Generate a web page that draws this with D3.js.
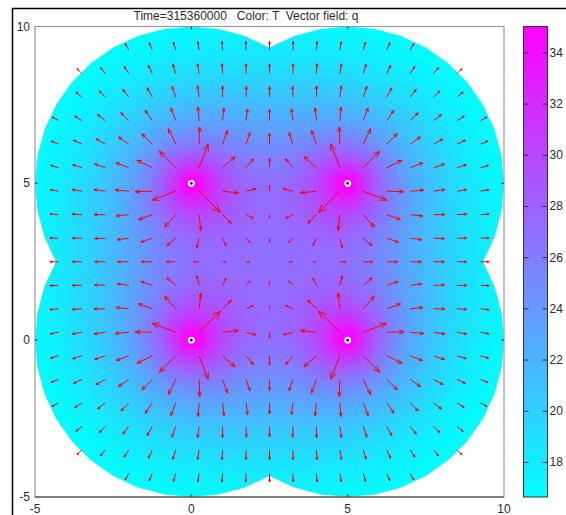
<!DOCTYPE html>
<html>
<head>
<meta charset="utf-8">
<script src="https://cdn.jsdelivr.net/npm/d3@7"></script>
<style>
  body { margin: 0; background: #fff; }
  svg { display: block; }
  text { font-family: "Liberation Sans", Arial, sans-serif; }
</style>
</head>
<body>
<svg id="chart" width="566" height="515"></svg>
<script>
// ---- data -------------------------------------------------------------
const titleText = "Time=315360000   Color: T  Vector field: q";
const sourceX = [0, 5, 0, 5];          // heat source positions
const sourceY = [0, 0, 5, 5];
const domainRadius = 5;                // each source sits in a disc of this radius
const xExtent = [-5, 10];
const yExtent = [-5, 10];
const axisTicks = [-5, 0, 5, 10];
const colorTicks = [18, 20, 22, 24, 26, 28, 30, 32, 34];
const tRange = [16.65, 35.03];         // colour bar limits of T
const sourceStrength = 3.5;            // A in  T = T0 + A * sum E1(r^2 / 4kt)
const spreadArea = 40;                 // 4kt
const coreRadius = 0.44;               // keeps T finite at a source node
const arrowOrigin = 2.5;               // q is sampled on a 0.75 lattice through this point
const arrowStep = 0.75;

// ---- layout -----------------------------------------------------------
const svg = d3.select("#chart");
const x = d3.scaleLinear().domain(xExtent).range([35, 504]);
const y = d3.scaleLinear().domain(yExtent).range([497, 26.5]);
const color = d3.scaleLinear().domain(tRange).range(["#00ffff", "#ff00ff"]).clamp(true);

// ---- line-source solution, superposed for the four sources ------------
function E1(z) {
  if (z <= 1) {
    let s = 0, term = 1;
    for (let k = 1; k < 30; k++) { term *= -z / k; s += term / k; }
    return -0.5772156649 - Math.log(z) - s;
  }
  const a1 = 2.334733, a2 = 0.250621, b1 = 3.330657, b2 = 1.681534;
  return Math.exp(-z) / z * (z * z + a1 * z + a2) / (z * z + b1 * z + b2);
}
const inDomain = (px, py) => sourceX.some((sx, s) => Math.hypot(px - sx, py - sourceY[s]) < domainRadius - 1e-9);
const rise = (px, py) => {
  let v = 0;
  sourceX.forEach((sx, s) => {
    const r2 = (px - sx) ** 2 + (py - sourceY[s]) ** 2 + coreRadius * coreRadius;
    v += E1(r2 / spreadArea);
  });
  return sourceStrength * v;
};
const flux = (px, py) => {
  let qx = 0, qy = 0;
  sourceX.forEach((sx, s) => {
    const dx = px - sx, dy = py - sourceY[s], r2 = dx * dx + dy * dy;
    const f = 2 * sourceStrength * Math.exp(-r2 / spreadArea) / r2;
    qx += f * dx; qy += f * dy;
  });
  return [qx, qy];
};

const h = 0.0625;
const N = Math.round((xExtent[1] - xExtent[0]) / h) + 1;
const R = new Float64Array(N * N);
let minRise = Infinity;
for (let j = 0; j < N; j++) {
  for (let i = 0; i < N; i++) {
    const px = xExtent[0] + i * h, py = yExtent[0] + j * h;
    const v = rise(px, py);
    R[j * N + i] = v;
    if (inDomain(px, py) && v < minRise) minRise = v;
  }
}
const T0 = tRange[0] - minRise;

// ---- temperature raster ----------------------------------------------
const cvs = document.createElement("canvas");
cvs.width = N; cvs.height = N;
const ctx = cvs.getContext("2d");
const img = ctx.createImageData(N, N);
for (let j = 0; j < N; j++) {
  for (let i = 0; i < N; i++) {
    const c = d3.rgb(color(T0 + R[j * N + i]));
    const p = ((N - 1 - j) * N + i) * 4;
    img.data[p] = c.r; img.data[p + 1] = c.g; img.data[p + 2] = c.b; img.data[p + 3] = 255;
  }
}
ctx.putImageData(img, 0, 0);

const defs = svg.append("defs");
const clip = defs.append("clipPath").attr("id", "domain");
const ring = d3.range(0, 360, 10).map(a => a * Math.PI / 180);
sourceX.forEach((sx, s) => {
  clip.append("path").attr("d",
    d3.line()(ring.map(a => [x(sx + domainRadius * Math.cos(a)), y(sourceY[s] + domainRadius * Math.sin(a))])) + "Z");
});

svg.append("image")
  .attr("href", cvs.toDataURL())
  .attr("x", x(xExtent[0] - h / 2))
  .attr("y", y(yExtent[1] + h / 2))
  .attr("width", x(xExtent[1] + h / 2) - x(xExtent[0] - h / 2))
  .attr("height", y(yExtent[0] - h / 2) - y(yExtent[1] + h / 2))
  .attr("preserveAspectRatio", "none")
  .attr("clip-path", "url(#domain)");

// ---- heat flux q on the arrow lattice --------------------------------
const lattice = [];
for (let ix = -9; arrowOrigin + ix * arrowStep <= xExtent[1] + 1e-9; ix++) {
  for (let iy = -9; arrowOrigin + iy * arrowStep <= yExtent[1] + 1e-9; iy++) {
    const ax = arrowOrigin + ix * arrowStep, ay = arrowOrigin + iy * arrowStep;
    if (!inDomain(ax, ay)) continue;
    const [qx, qy] = flux(ax, ay);
    lattice.push({ x: ax, y: ay, qx, qy, m: Math.hypot(qx, qy) });
  }
}
const arrowLen = d3.scaleSqrt().domain([0, d3.max(lattice, d => d.m)]).range([0, 30]);
const arrowPath = d => {
  const L = arrowLen(d.m);
  if (L < 0.01) return "";
  const ux = d.qx / d.m, uy = -d.qy / d.m;
  const x0 = x(d.x), y0 = y(d.y), x1 = x0 + ux * L, y1 = y0 + uy * L;
  const hl = 0.3 * L, ang = 22 * Math.PI / 180;
  const back = Math.atan2(-uy, -ux);
  const hx1 = x1 + hl * Math.cos(back + ang), hy1 = y1 + hl * Math.sin(back + ang);
  const hx2 = x1 + hl * Math.cos(back - ang), hy2 = y1 + hl * Math.sin(back - ang);
  return `M${x0},${y0}L${x1},${y1}M${hx1},${hy1}L${x1},${y1}L${hx2},${hy2}`;
};
svg.append("g").attr("class", "flux")
  .selectAll("path").data(lattice).join("path")
  .attr("d", arrowPath)
  .attr("fill", "none")
  .attr("stroke", "#ff0000")
  .attr("stroke-width", 1);

// ---- source markers ---------------------------------------------------
const marks = svg.append("g");
sourceX.forEach((sx, s) => {
  marks.append("circle").attr("cx", x(sx)).attr("cy", y(sourceY[s])).attr("r", 3.4).attr("fill", "#fff");
  marks.append("circle").attr("cx", x(sx)).attr("cy", y(sourceY[s])).attr("r", 1.3).attr("fill", "#000");
});

// ---- axes box ---------------------------------------------------------
const frame = svg.append("g");
frame.append("rect")
  .attr("x", x(xExtent[0])).attr("y", y(yExtent[1]))
  .attr("width", x(xExtent[1]) - x(xExtent[0])).attr("height", y(yExtent[0]) - y(yExtent[1]))
  .attr("fill", "none").attr("stroke", "#9a9a9a").attr("stroke-width", 1.2);
frame.append("line")
  .attr("x1", x(xExtent[0])).attr("x2", x(xExtent[1]))
  .attr("y1", y(yExtent[0])).attr("y2", y(yExtent[0]))
  .attr("stroke", "#3a3a3a").attr("stroke-width", 1.2);

const inner = axisTicks.slice(1, -1);
inner.forEach(t => {
  frame.append("line").attr("x1", x(t)).attr("x2", x(t)).attr("y1", y(yExtent[0])).attr("y2", y(yExtent[0]) - 3).attr("stroke", "#333");
  frame.append("line").attr("x1", x(t)).attr("x2", x(t)).attr("y1", y(yExtent[1])).attr("y2", y(yExtent[1]) + 3).attr("stroke", "#333");
  frame.append("line").attr("y1", y(t)).attr("y2", y(t)).attr("x1", x(xExtent[0])).attr("x2", x(xExtent[0]) + 3).attr("stroke", "#333");
  frame.append("line").attr("y1", y(t)).attr("y2", y(t)).attr("x1", x(xExtent[1])).attr("x2", x(xExtent[1]) - 3).attr("stroke", "#333");
});

const labelFont = 12;
svg.append("g").selectAll("text").data(axisTicks).join("text")
  .attr("x", d => x(d)).attr("y", 512.5)
  .attr("text-anchor", "middle").attr("font-size", labelFont).attr("fill", "#2b2b2b")
  .text(d => d);
svg.append("g").selectAll("text").data(axisTicks).join("text")
  .attr("x", 30).attr("y", d => y(d) + 4)
  .attr("text-anchor", "end").attr("font-size", labelFont).attr("fill", "#2b2b2b")
  .text(d => d);

// ---- colour bar -------------------------------------------------------
const cb = d3.scaleLinear().domain(tRange).range([497, 26.5]);
const grad = defs.append("linearGradient").attr("id", "cool")
  .attr("x1", 0).attr("x2", 0).attr("y1", 1).attr("y2", 0);
grad.append("stop").attr("offset", 0).attr("stop-color", color(tRange[0]));
grad.append("stop").attr("offset", 1).attr("stop-color", color(tRange[1]));
const cbx = 523.5, cbw = 24;
svg.append("rect")
  .attr("x", cbx).attr("y", cb(tRange[1]))
  .attr("width", cbw).attr("height", cb(tRange[0]) - cb(tRange[1]))
  .attr("fill", "url(#cool)").attr("stroke", "#333").attr("stroke-width", 1);
const cbTicks = svg.append("g");
cbTicks.selectAll("path").data(colorTicks).join("path")
  .attr("d", d => `M${cbx},${cb(d)}h5M${cbx + cbw},${cb(d)}h-5`)
  .attr("stroke", "#333").attr("stroke-width", 1);
cbTicks.selectAll("text").data(colorTicks).join("text")
  .attr("x", cbx + cbw + 2).attr("y", d => cb(d) + 4)
  .attr("font-size", labelFont).attr("fill", "#2b2b2b")
  .text(d => d);

// ---- title and outer frame -------------------------------------------
svg.append("text")
  .attr("x", 246).attr("y", 19.5)
  .attr("text-anchor", "middle").attr("font-size", 12).attr("fill", "#2b2b2b")
  .style("white-space", "pre")
  .text(titleText);
svg.append("path")
  .attr("d", "M566,8.5H12.5V515")
  .attr("fill", "none").attr("stroke", "#000").attr("stroke-width", 1.5);
</script>
</body>
</html>
